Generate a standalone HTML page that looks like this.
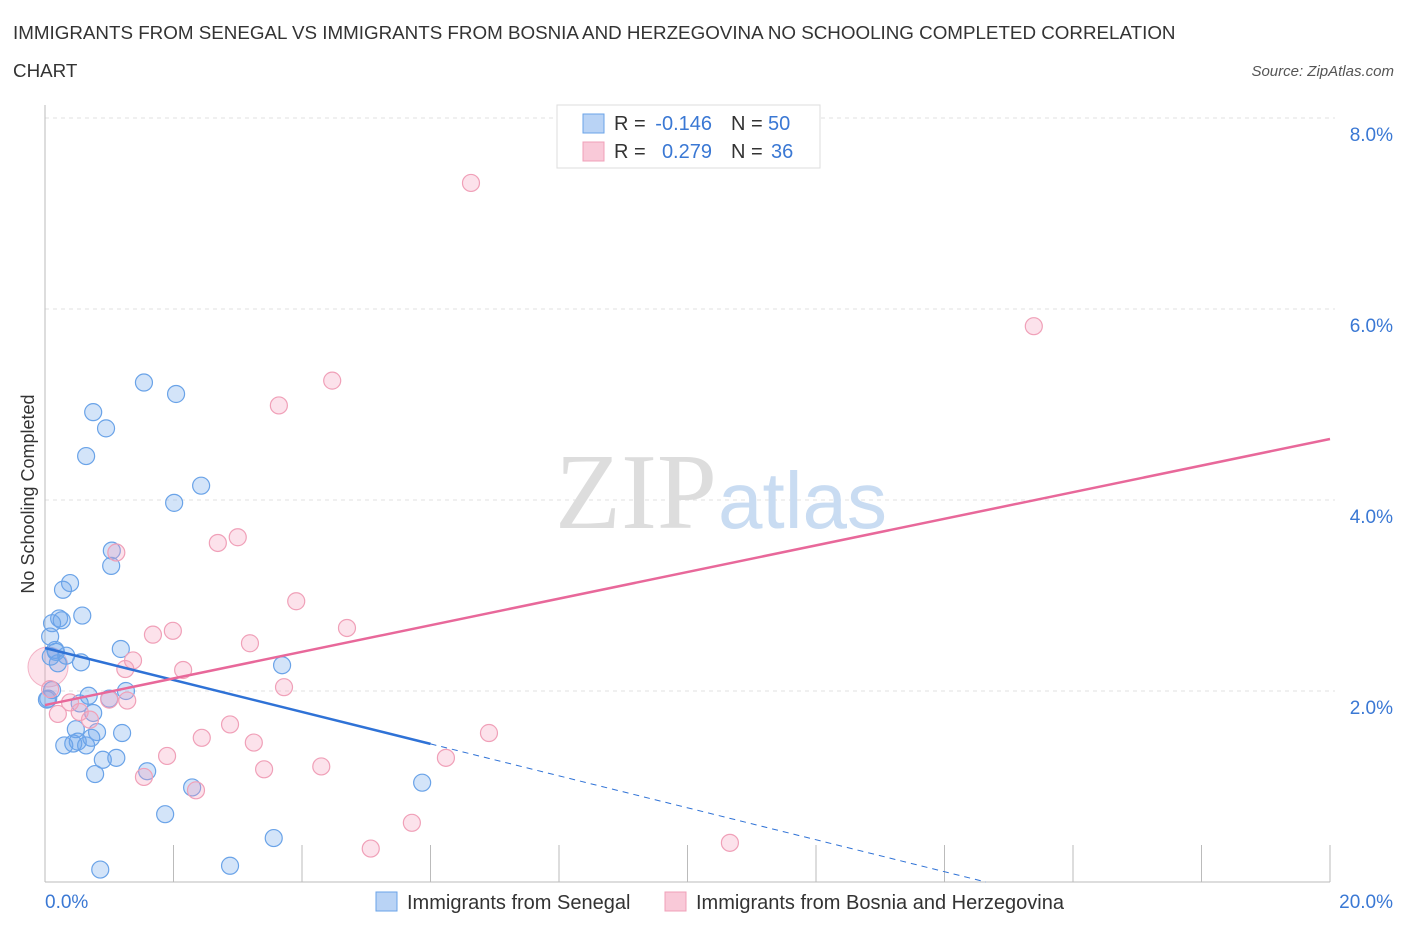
<!DOCTYPE html>
<html><head><meta charset="utf-8"><style>
body{margin:0;background:#fff;font-family:"Liberation Sans",sans-serif;}
svg text{font-family:"Liberation Sans",sans-serif;}
</style></head><body>
<svg id="c" width="1406" height="930">
<text x="13" y="39" font-size="18.8" fill="#333">IMMIGRANTS FROM SENEGAL VS IMMIGRANTS FROM BOSNIA AND HERZEGOVINA NO SCHOOLING COMPLETED CORRELATION</text>
<text x="13" y="77" font-size="18.8" fill="#333">CHART</text>
<text x="1394" y="76" font-size="15" fill="#555" font-style="italic" text-anchor="end">Source: ZipAtlas.com</text>
<text x="34" y="494" font-size="18" fill="#333" text-anchor="middle" transform="rotate(-90 34 494)">No Schooling Completed</text>
<g id="grid"></g>
<text x="555" y="528" font-size="108" fill="#ddd" style="font-family:'Liberation Serif',serif">ZIP</text>
<text x="718" y="528" font-size="80" fill="#c9dcf2">atlas</text>
<g id="marks"></g>
<g>
<rect x="557" y="105" width="263" height="63" fill="#fff" stroke="#ddd"/>
<rect x="583" y="114" width="21" height="19" fill="#b9d3f5" stroke="#6aa3e8"/>
<rect x="583" y="142" width="21" height="19" fill="#f9c9d8" stroke="#f0a0b8"/>
<text x="614" y="130" font-size="20" fill="#333">R =</text>
<text x="712" y="130" font-size="20" fill="#3a78d4" text-anchor="end">-0.146</text>
<text x="731" y="130" font-size="20" fill="#333">N =</text>
<text x="768" y="130" font-size="20" fill="#3a78d4">50</text>
<text x="614" y="158" font-size="20" fill="#333">R =</text>
<text x="712" y="158" font-size="20" fill="#3a78d4" text-anchor="end">0.279</text>
<text x="731" y="158" font-size="20" fill="#333">N =</text>
<text x="771" y="158" font-size="20" fill="#3a78d4">36</text>
</g>
<g>
<rect x="376" y="892" width="21" height="19" fill="#b9d3f5" stroke="#6aa3e8"/>
<text x="407" y="909" font-size="20" fill="#333">Immigrants from Senegal</text>
<rect x="665" y="892" width="21" height="19" fill="#f9c9d8" stroke="#f0a0b8"/>
<text x="696" y="909" font-size="20" fill="#333">Immigrants from Bosnia and Herzegovina</text>
</g>
</svg>
<script>
const xTicks=[0,20];
const yTicks=[2,4,6,8];
const blueX=[1.54,2.04,0.75,0.95,0.64,2.43,2.01,1.04,1.03,0.39,0.28,0.58,0.22,0.26,0.11,0.08,1.18,0.16,0.17,0.33,0.56,0.20,3.69,0.11,1.26,0.68,0.05,0.54,1.00,0.75,0.48,0.81,1.20,0.30,0.44,0.51,0.64,0.72,0.90,1.11,1.59,0.78,2.29,1.87,5.87,3.56,2.88,0.86,0.09,0.03];
const blueY=[5.23,5.11,4.92,4.75,4.46,4.15,3.97,3.47,3.31,3.13,3.06,2.79,2.76,2.74,2.71,2.57,2.44,2.43,2.41,2.37,2.30,2.29,2.27,2.01,2.00,1.95,1.92,1.87,1.92,1.77,1.60,1.57,1.56,1.43,1.45,1.47,1.43,1.51,1.28,1.30,1.16,1.13,0.99,0.71,1.04,0.46,0.17,0.13,2.36,1.91];
const pinkX=[6.63,15.39,4.47,3.64,3.00,2.69,1.11,3.91,1.68,1.99,4.70,3.19,1.37,2.15,1.25,3.72,0.08,1.00,1.28,0.39,0.54,0.70,0.20,2.88,6.91,2.44,1.90,3.25,3.41,4.30,1.54,2.35,6.24,5.71,5.07,10.66];
const pinkY=[7.32,5.82,5.25,4.99,3.61,3.55,3.45,2.94,2.59,2.63,2.66,2.50,2.32,2.22,2.23,2.04,2.02,1.91,1.90,1.88,1.78,1.70,1.76,1.65,1.56,1.51,1.32,1.46,1.18,1.21,1.10,0.96,1.30,0.62,0.35,0.41];
const blueTrend=[2.45,-0.1673];
const pinkTrend=[1.853,4.639];
const X0=45,X1=1330,Y0=882,PPY=95.5;
const sx=v=>X0+(X1-X0)*v/20, sy=v=>Y0-v*PPY;
const NS="http://www.w3.org/2000/svg";
function mk(t,a,p){const e=document.createElementNS(NS,t);for(const k in a)e.setAttribute(k,a[k]);p.appendChild(e);return e;}
const grid=document.getElementById('grid'), marks=document.getElementById('marks');
for(const t of yTicks){
 const l=mk('line',{x1:X0,x2:X1+5,y1:sy(t),y2:sy(t),stroke:'#e2e2e2','stroke-dasharray':'4,4'},grid);
 
 
 const tx=mk('text',{x:1393,y:sy(t)+23,'font-size':19,fill:'#3a78d4','text-anchor':'end'},grid);tx.textContent=t.toFixed(1)+'%';
 
 
}
mk('line',{x1:X0,x2:X0,y1:105,y2:Y0,stroke:'#bbb'},grid);
mk('line',{x1:X0,x2:X1,y1:Y0,y2:Y0,stroke:'#bbb'},grid);
for(let i=0;i<=10;i++){mk('line',{x1:sx(i*2),x2:sx(i*2),y1:845,y2:Y0,stroke:'#bbb'},grid);}
xTicks.forEach((t,i)=>{const tx=mk('text',{x:i?1393:45,y:908,'font-size':19,fill:'#3a78d4','text-anchor':i?'end':'start'},grid);tx.textContent=t.toFixed(1)+'%';
 
 });
mk('circle',{cx:48,cy:667,r:20,fill:'rgba(245,160,190,0.3)',stroke:'#f3b3c6'},marks);
for(let i=0;i<blueX.length;i++){const c=mk('circle',{cx:sx(blueX[i]),cy:sy(blueY[i]),r:8.5,fill:'rgba(110,165,235,0.3)',stroke:'#6aa3e8','stroke-width':1.2},marks);
 
 }
for(let i=0;i<pinkX.length;i++){const c=mk('circle',{cx:sx(pinkX[i]),cy:sy(pinkY[i]),r:8.5,fill:'rgba(245,160,190,0.3)',stroke:'#f0a0b8','stroke-width':1.2},marks);
 
 }
const by=x=>blueTrend[0]+blueTrend[1]*x;
let l=mk('line',{x1:sx(0),y1:sy(by(0)),x2:sx(6),y2:sy(by(6)),stroke:'#2f72d6','stroke-width':2.5},marks);


const xe=blueTrend[0]/-blueTrend[1];
l=mk('line',{x1:sx(6),y1:sy(by(6)),x2:sx(xe),y2:sy(0),stroke:'#2f72d6','stroke-width':1,'stroke-dasharray':'6,5'},marks);


l=mk('line',{x1:sx(0),y1:sy(pinkTrend[0]),x2:sx(20),y2:sy(pinkTrend[1]),stroke:'#e8689a','stroke-width':2.5},marks);


</script>
</body></html>
